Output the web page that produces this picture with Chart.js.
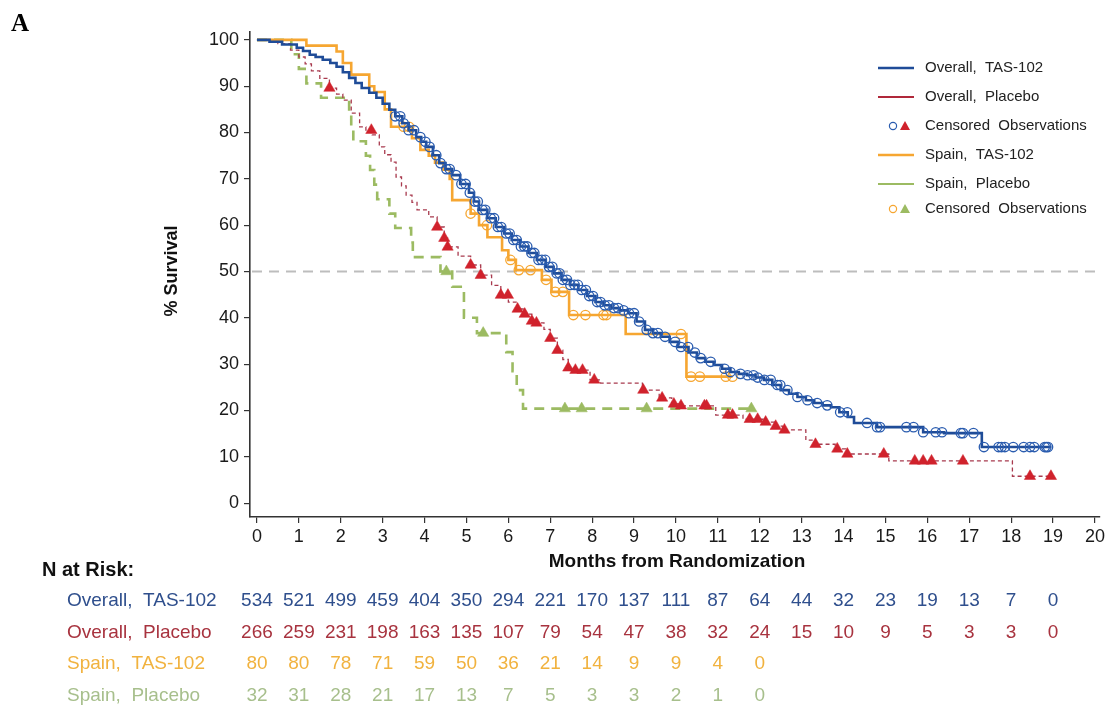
<!DOCTYPE html>
<html>
<head>
<meta charset="utf-8">
<style>
html,body{margin:0;padding:0;background:#fff;}
#wrap{position:relative;width:1108px;height:712px;overflow:hidden;}
canvas{display:block;}
</style>
<script src="https://cdn.jsdelivr.net/npm/chart.js@4.4.1/dist/chart.umd.min.js"></script>
</head>
<body>
<div id="wrap"><canvas id="c" width="1108" height="712"></canvas></div>
<script>
// ---------- data ----------
const xTicks = [0,1,2,3,4,5,6,7,8,9,10,11,12,13,14,15,16,17,18,19,20];
const yTicks = [0,10,20,30,40,50,60,70,80,90,100];

const seriesNames = ['Overall,  TAS-102','Overall,  Placebo','Spain,  TAS-102','Spain,  Placebo'];
const censorLabel = 'Censored  Observations';

// Overall, TAS-102 (KM step curve)
const overallTasTime = [0,0.3,0.6,0.95,1.1,1.26,1.4,1.57,1.75,1.9,2.05,2.2,2.35,2.5,2.68,2.85,3.0,3.16,3.3,3.47,3.62,3.8,3.92,4.04,4.2,4.35,4.5,4.66,4.85,5.06,5.18,5.3,5.5,5.7,5.9,6.08,6.28,6.48,6.68,6.89,7.08,7.27,7.47,7.67,7.88,8.08,8.27,8.46,8.66,8.86,9.06,9.26,9.45,9.64,9.85,10.05,10.3,10.5,10.7,10.9,11.1,11.3,11.5,11.7,11.9,12.1,12.3,12.5,12.7,12.9,13.1,13.3,13.5,13.7,13.9,14.1,14.25,14.8,15.9,16.4,17.3,18.95];
const overallTasSurv = [100,99.6,99,98.3,97.6,96.8,96.3,95.7,95,94.2,93,91.8,90.7,89.6,88.6,87.5,86.2,84.9,83.5,82,80.5,79,78,76.9,75.1,73.4,72.1,70.8,68.9,67,65.1,63.3,61.5,59.6,58.2,56.8,55.4,54,52.5,51,49.6,48.2,47.1,46,44.7,43.4,42.7,42.1,41.6,41,39.2,37.4,36.7,35.9,34.8,33.7,32.5,31.3,30.5,29.8,29.0,28.3,27.9,27.6,27.1,26.6,25.5,24.4,23.6,22.9,22.2,21.6,21.1,20.7,19.6,18.6,17.3,16.4,15.3,15.1,12.1,12.1];
const overallTasCensor = [3.3,3.42,3.5,3.62,3.75,3.9,4.02,4.12,4.28,4.38,4.52,4.6,4.75,4.88,4.98,5.08,5.2,5.27,5.38,5.45,5.58,5.66,5.75,5.83,5.95,6.03,6.12,6.2,6.3,6.38,6.45,6.55,6.62,6.72,6.8,6.88,6.97,7.05,7.15,7.22,7.3,7.4,7.48,7.58,7.66,7.75,7.85,7.93,8.02,8.12,8.2,8.3,8.4,8.52,8.62,8.75,8.88,9.0,9.12,9.3,9.45,9.57,9.74,9.98,10.12,10.29,10.45,10.59,10.83,11.16,11.3,11.54,11.71,11.85,11.95,12.11,12.26,12.42,12.49,12.66,12.9,13.14,13.37,13.61,13.92,14.09,14.56,14.8,14.87,15.5,15.67,15.9,16.2,16.35,16.8,16.85,17.1,17.35,17.7,17.77,17.85,18.05,18.3,18.45,18.55,18.8,18.84,18.88];

// Overall, Placebo
const overallPboTime = [0,0.5,0.8,1.0,1.15,1.3,1.5,1.73,1.9,2.05,2.25,2.45,2.6,2.75,2.92,3.05,3.2,3.32,3.45,3.56,3.7,3.82,4.1,4.3,4.47,4.55,4.8,5.1,5.34,5.6,5.82,6.0,6.22,6.39,6.56,6.67,6.85,7.0,7.17,7.3,7.43,7.55,7.95,8.2,9.2,9.6,9.9,10.1,10.95,11.6,12.1,12.35,12.55,13.1,13.3,13.8,14.05,15.08,18.03,18.95];
const overallPboSurv = [100,99.2,97.8,96.3,94.8,93.3,91.7,89.6,88.3,87,84.2,81.2,80.5,79.5,76.9,75.2,73.6,70.4,68.5,66.5,64.9,63.3,61.8,59.6,57.2,55.3,53.3,51.4,49.2,47,44.9,43.4,41.9,40.8,39.3,38.9,37.5,35.6,33,31,29.2,28.7,26.6,25.9,24.4,22.7,21.4,21,19,18.1,17.5,16.6,15.8,13.6,12.7,11.7,10.6,9.1,5.8,5.8];
const overallPboCensor = [1.73,2.73,4.3,4.47,4.55,5.1,5.34,5.82,5.99,6.22,6.39,6.56,6.67,7.0,7.17,7.43,7.6,7.77,8.05,9.22,9.67,9.95,10.12,10.68,10.73,11.24,11.35,11.76,11.95,12.14,12.38,12.59,13.33,13.85,14.09,14.96,15.7,15.9,16.1,16.85,18.45,18.95];

// Spain, TAS-102
const spainTasTime = [0,1.18,1.9,2.05,2.25,2.68,2.8,3.05,3.2,3.7,3.9,4.1,4.25,4.45,4.6,4.66,5.1,5.3,5.5,5.85,6.0,6.18,6.8,7.03,7.45,8.8,10.25,11.35];
const spainTasSurv = [100,98.75,97.5,95,92.5,90,88.75,85,81.25,78.75,76.25,75,73.5,72,70,65.4,62.5,60,57.4,54.6,52.5,50.3,48.2,45.6,40.6,36.5,27.3,27.3];
const spainTasCensor = [3.5,3.63,5.1,5.49,6.05,6.25,6.53,6.9,7.12,7.3,7.55,7.84,8.27,8.34,10.12,10.36,10.57,11.19,11.35];

// Spain, Placebo
const spainPboTime = [0,0.82,1.0,1.18,1.53,2.2,2.25,2.3,2.6,2.7,2.8,2.87,3.16,3.3,3.68,3.72,4.38,4.66,4.94,5.25,5.95,6.1,6.2,6.35,11.8];
const spainPboSurv = [100,96.9,93.75,90.6,87.5,84.4,81.25,78.1,75,71.9,68.75,65.6,62.5,59.4,56.25,53.1,50,46.7,40,36.7,32.6,28.5,24.4,20.4,20.4];
const spainPboCensor = [4.52,5.4,7.35,7.75,9.3,11.8];

// Number at risk (at months 0..19)
const riskOverallTas = [534,521,499,459,404,350,294,221,170,137,111,87,64,44,32,23,19,13,7,0];
const riskOverallPbo = [266,259,231,198,163,135,107,79,54,47,38,32,24,15,10,9,5,3,3,0];
const riskSpainTas = [80,80,78,71,59,50,36,21,14,9,9,4,0];
const riskSpainPbo = [32,31,28,21,17,13,7,5,3,3,2,1,0];

const refLineValue = 50;

// ---------- helpers ----------
const C_BLUE = '#1f4c98', C_BLUE_PT = '#2a5caf';
const C_RED_LINE = '#a83a4e', C_RED_PT = '#d0222c';
const C_ORANGE = '#f6a631';
const C_GREEN = '#9cbb62';
const T_BLUE = '#2f4f8d', T_RED = '#a8333f', T_ORANGE = '#f1b23e', T_GREEN = '#a7bf8c';
const FONT = "'Liberation Sans', Arial, sans-serif";

function toPts(ts, ss){ return ts.map((t,i)=>({x:t, y:ss[i]})); }
function survAt(ts, ss, t){ let v = ss[0]; for(let i=0;i<ts.length;i++){ if(ts[i] <= t) v = ss[i]; else break; } return v; }
function censorPts(cs, ts, ss){ return cs.map(t=>({x:t, y:survAt(ts, ss, t)})); }

const lineBase = {showLine:true, stepped:true, pointRadius:0, fill:false, tension:0};

const datasets = [
  {label:'cTas', data:censorPts(overallTasCensor, overallTasTime, overallTasSurv), showLine:false, pointStyle:'circle', pointRadius:4.7, pointBorderColor:C_BLUE_PT, pointBackgroundColor:'rgba(0,0,0,0)', pointBorderWidth:1.3, order:1},
  {label:seriesNames[0], data:toPts(overallTasTime, overallTasSurv), ...lineBase, borderColor:C_BLUE, borderWidth:2.6, order:2},
  {label:'cSpTas', data:censorPts(spainTasCensor, spainTasTime, spainTasSurv), showLine:false, pointStyle:'circle', pointRadius:4.7, pointBorderColor:C_ORANGE, pointBackgroundColor:'rgba(0,0,0,0)', pointBorderWidth:1.3, order:3},
  {label:seriesNames[2], data:toPts(spainTasTime, spainTasSurv), ...lineBase, borderColor:C_ORANGE, borderWidth:2.6, order:4},
  {label:'cPbo', data:censorPts(overallPboCensor, overallPboTime, overallPboSurv), showLine:false, pointStyle:'triangle', pointRadius:6.5, pointBorderColor:C_RED_PT, pointBackgroundColor:C_RED_PT, pointBorderWidth:0.5, order:5},
  {label:'cSpPbo', data:censorPts(spainPboCensor, spainPboTime, spainPboSurv), showLine:false, pointStyle:'triangle', pointRadius:6.5, pointBorderColor:C_GREEN, pointBackgroundColor:C_GREEN, pointBorderWidth:0.5, order:6},
  {label:seriesNames[1], data:toPts(overallPboTime, overallPboSurv), ...lineBase, borderColor:C_RED_LINE, borderWidth:1.3, borderDash:[4,3], order:7},
  {label:seriesNames[3], data:toPts(spainPboTime, spainPboSurv), ...lineBase, borderColor:C_GREEN, borderWidth:2.6, borderDash:[10,7], order:8}
];

const refLinePlugin = {
  id:'refLine',
  beforeDatasetsDraw(chart){
    const {ctx, chartArea, scales} = chart;
    const y = scales.y.getPixelForValue(refLineValue);
    ctx.save();
    ctx.strokeStyle = '#bdbdbd'; ctx.lineWidth = 2; ctx.setLineDash([10,7]);
    ctx.beginPath(); ctx.moveTo(chartArea.left + 2, y); ctx.lineTo(chartArea.right, y); ctx.stroke();
    ctx.restore();
  }
};

const decorPlugin = {
  id:'decor',
  afterDraw(chart){
    const {ctx, scales} = chart;
    const xs = scales.x;
    ctx.save();
    // panel letter
    ctx.fillStyle = '#000'; ctx.font = "bold 25px 'Liberation Serif', 'Times New Roman', serif";
    ctx.textAlign = 'left'; ctx.textBaseline = 'alphabetic';
    ctx.fillText('A', 11, 31);
    // axis titles
    ctx.font = "bold 19px " + FONT; ctx.textAlign = 'center'; ctx.textBaseline = 'middle'; ctx.fillStyle = '#111';
    ctx.fillText('Months from Randomization', 677, 562);
    ctx.save(); ctx.translate(172, 271); ctx.rotate(-Math.PI/2);
    ctx.font = "bold 18px " + FONT; ctx.fillText('% Survival', 0, 0); ctx.restore();

    // legend
    const lx0 = 878, lx1 = 914, tx = 925;
    const rows = [68, 97, 126, 155, 184, 209];
    ctx.font = "15px " + FONT; ctx.textAlign = 'left'; ctx.textBaseline = 'middle'; ctx.fillStyle = '#222';
    function legLine(y, color, w){ ctx.save(); ctx.strokeStyle = color; ctx.lineWidth = w; ctx.setLineDash([]); ctx.beginPath(); ctx.moveTo(lx0, y); ctx.lineTo(lx1, y); ctx.stroke(); ctx.restore(); }
    function legCirc(x, y, color){ ctx.save(); ctx.strokeStyle = color; ctx.lineWidth = 1.2; ctx.beginPath(); ctx.arc(x, y, 3.6, 0, Math.PI*2); ctx.stroke(); ctx.restore(); }
    function legTri(x, y, color){ ctx.save(); ctx.fillStyle = color; ctx.beginPath(); ctx.moveTo(x, y-5); ctx.lineTo(x+5, y+4); ctx.lineTo(x-5, y+4); ctx.closePath(); ctx.fill(); ctx.restore(); }
    legLine(rows[0], C_BLUE, 2.4); ctx.fillText(seriesNames[0], tx, rows[0]);
    legLine(rows[1], '#b0283a', 2); ctx.fillText(seriesNames[1], tx, rows[1]);
    legCirc(893, rows[2], C_BLUE_PT); legTri(905, rows[2], C_RED_PT); ctx.fillText(censorLabel, tx, rows[2]);
    legLine(rows[3], C_ORANGE, 2.4); ctx.fillText(seriesNames[2], tx, rows[3]);
    legLine(rows[4], C_GREEN, 2); ctx.fillText(seriesNames[3], tx, rows[4]);
    legCirc(893, rows[5], C_ORANGE); legTri(905, rows[5], C_GREEN); ctx.fillText(censorLabel, tx, rows[5]);

    // N at risk table
    ctx.font = "bold 20px " + FONT; ctx.fillStyle = '#111'; ctx.textAlign = 'left';
    ctx.fillText('N at Risk:', 42, 570);
    const tRows = [
      {name:seriesNames[0], vals:riskOverallTas, color:T_BLUE, y:601},
      {name:seriesNames[1], vals:riskOverallPbo, color:T_RED, y:633},
      {name:seriesNames[2], vals:riskSpainTas, color:T_ORANGE, y:664},
      {name:seriesNames[3], vals:riskSpainPbo, color:T_GREEN, y:696}
    ];
    ctx.font = "19px " + FONT;
    tRows.forEach(r=>{
      ctx.fillStyle = r.color; ctx.textAlign = 'left';
      ctx.fillText(r.name, 67, r.y);
      ctx.textAlign = 'center';
      r.vals.forEach((v,i)=>{ ctx.fillText(String(v), xs.getPixelForValue(xTicks[i]), r.y); });
    });
    ctx.restore();
  }
};

new Chart(document.getElementById('c'), {
  type:'scatter',
  data:{datasets},
  options:{
    responsive:false, animation:false, events:[], devicePixelRatio:1,
    layout:{padding:{top:32, right:4, left:0, bottom:0}},
    plugins:{legend:{display:false}, tooltip:{enabled:false}, title:{display:false}},
    scales:{
      x:{type:'linear', min:-0.166, max:20.12,
        afterBuildTicks(s){ s.ticks = xTicks.map(v=>({value:v})); },
        afterFit(s){ s.height = 195; },
        grid:{drawOnChartArea:false, drawTicks:true, tickLength:6, color:'#333', lineWidth:1.2},
        border:{display:true, color:'#333', width:1.6},
        ticks:{font:{family:FONT, size:18}, color:'#1a1a1a', padding:3, maxRotation:0, autoSkip:false, callback:v=>String(v)}
      },
      y:{type:'linear', min:-3, max:101.7,
        afterBuildTicks(s){ s.ticks = yTicks.map(v=>({value:v})); },
        afterFit(s){ s.width = 250; },
        grid:{drawOnChartArea:false, drawTicks:true, tickLength:6, color:'#333', lineWidth:1.2},
        border:{display:true, color:'#333', width:1.6},
        ticks:{font:{family:FONT, size:18}, color:'#1a1a1a', padding:5, autoSkip:false, callback:v=>String(v)}
      }
    }
  },
  plugins:[refLinePlugin, decorPlugin]
});
</script>
</body>
</html>
